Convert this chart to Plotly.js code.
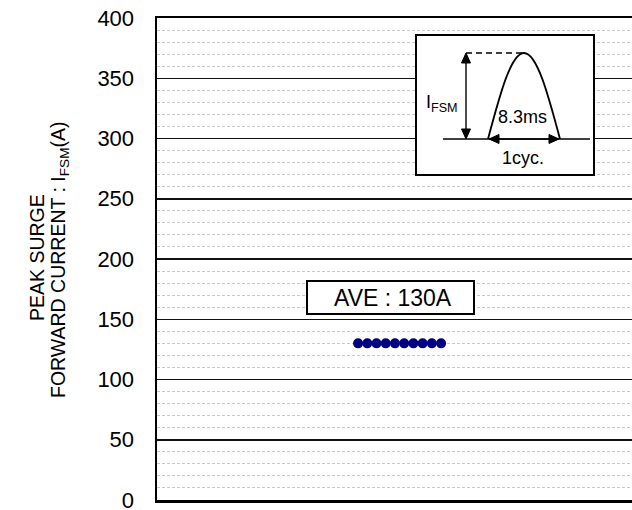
<!DOCTYPE html>
<html>
<head>
<meta charset="utf-8">
<script src="https://cdn.plot.ly/plotly-3.0.1.min.js"></script>
<style>
  html, body { margin: 0; padding: 0; background: #fff; overflow: hidden; }
  #chart { width: 632px; height: 510px; }
</style>
</head>
<body>
<div id="chart"></div>
<script>
// ---- data ----
const sampleNo = [1, 2, 3, 4, 5, 6, 7, 8, 9, 10];
const surgeCurrent = [130, 130, 130, 130, 130, 130, 130, 130, 130, 130];
const yTickVals = [0, 50, 100, 150, 200, 250, 300, 350, 400];
const yTickText = ['0', '50', '100', '150', '200', '250', '300', '350', '400'];
const averageLabel = 'AVE : 130A';
const yTitleLine1 = 'PEAK SURGE';
const yTitleLine2 = 'FORWARD CURRENT : I<sub>FSM</sub>(A)';
const insetAmp = 'I<sub>FSM</sub>';
const insetWidth = '8.3ms';
const insetCycle = '1cyc.';

// ---- layout helpers (pixel -> paper) ----
const L = 157, R = 632, T = 18, B = 500;
const px = x => (x - L) / (R - L);
const py = y => (B - y) / (B - T);
const FONT = 'Liberation Sans, Arial, sans-serif';

function pathPx(cmds) {
  return cmds.map(c => {
    const pts = [];
    for (let i = 1; i < c.length; i += 2) pts.push(px(c[i]).toFixed(5) + ',' + py(c[i + 1]).toFixed(5));
    return c[0] + ' ' + pts.join(' ');
  }).join(' ');
}
function lineShape(x0, y0, x1, y1, w, dash) {
  return { type: 'line', xref: 'paper', yref: 'paper', x0: px(x0), y0: py(y0), x1: px(x1), y1: py(y1),
    line: { color: '#000', width: w, dash: dash || 'solid' } };
}
function head(tx, ty, dx, dy) {
  const len = 10, hw = 4.5;
  const bx = tx - dx * len, by = ty - dy * len;
  const nx = -dy, ny = dx;
  return { type: 'path', xref: 'paper', yref: 'paper',
    path: pathPx([['M', tx, ty], ['L', bx + nx * hw, by + ny * hw], ['L', bx - nx * hw, by - ny * hw]]) + ' Z',
    fillcolor: '#000', line: { color: '#000', width: 1 } };
}

const shapes = [
  { type: 'rect', xref: 'paper', yref: 'paper', x0: px(416), x1: px(594), y0: py(175), y1: py(35),
    line: { color: '#000', width: 2 }, fillcolor: '#fff', layer: 'above' },
  lineShape(443, 139, 590, 139, 1.5),
  lineShape(466, 53, 524, 53, 1.5, '6px,4px'),
  { type: 'path', xref: 'paper', yref: 'paper',
    path: pathPx([['M', 488, 139], ['C', 500, 94, 511, 53, 524, 53], ['C', 537, 53, 548, 94, 560, 139]]),
    line: { color: '#000', width: 1.8 } },
  lineShape(466, 60, 466, 132, 1.4),
  head(466, 53, 0, -1),
  head(466, 139, 0, 1),
  lineShape(495, 139, 553, 139, 1.4),
  head(489, 139, -1, 0),
  head(559, 139, 1, 0),
  { type: 'rect', xref: 'paper', yref: 'paper', x0: px(307), x1: px(474), y0: py(314), y1: py(281),
    line: { color: '#000', width: 2 }, fillcolor: '#fff', layer: 'above' }
];

function txt(x, y, text, size, xanchor, angle) {
  return { xref: 'paper', yref: 'paper', x: px(x), y: py(y), xanchor: xanchor || 'center', yanchor: 'middle',
    textangle: angle || 0, showarrow: false, text: text, font: { family: FONT, size: size, color: '#000' } };
}

const annotations = [
  txt(37, 258, yTitleLine1, 19.5, 'center', -90),
  txt(59, 260, yTitleLine2, 19.5, 'center', -90),
  txt(393, 298, averageLabel, 23),
  txt(424, 103, insetAmp, 18, 'left'),
  txt(522, 117, insetWidth, 18),
  txt(523, 158, insetCycle, 18)
];

const trace = {
  x: sampleNo, y: surgeCurrent, type: 'scatter', mode: 'markers',
  marker: { color: '#000080', size: 10, line: { width: 0 } },
  hoverinfo: 'skip', showlegend: false
};

const layout = {
  width: 632, height: 510,
  margin: { l: L, r: 632 - R, t: T, b: 510 - B, pad: 0 },
  paper_bgcolor: '#fff', plot_bgcolor: '#fff',
  showlegend: false,
  xaxis: {
    range: [-20.8, 30.7], showticklabels: false, ticks: '', showgrid: false, zeroline: false,
    showline: true, linecolor: '#000', linewidth: 2.5, mirror: true, fixedrange: true
  },
  yaxis: {
    range: [0, 400], tickvals: yTickVals, ticktext: yTickText, ticks: '', ticklabelstandoff: 16,
    ticklabeloverflow: 'allow',
    tickfont: { family: FONT, size: 22, color: '#000' },
    showgrid: true, gridcolor: '#111', gridwidth: 1.5, zeroline: false,
    showline: true, linecolor: '#000', linewidth: 2.5, mirror: false,
    minor: { dtick: 10, tick0: 0, showgrid: true, gridcolor: '#c8c8c8', gridwidth: 1, griddash: '3px,2px', ticks: '' },
    fixedrange: true
  },
  shapes: shapes,
  annotations: annotations
};

Plotly.newPlot('chart', [trace], layout, { displayModeBar: false, staticPlot: true });
</script>
</body>
</html>
